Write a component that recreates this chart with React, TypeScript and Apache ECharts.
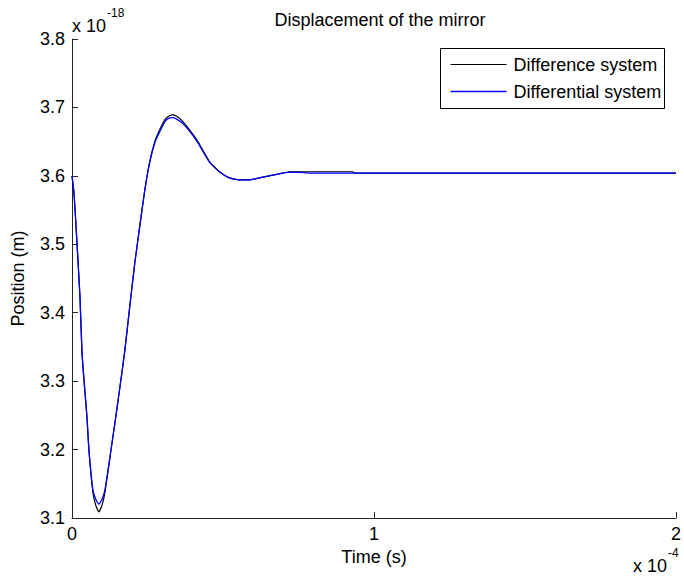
import React, { useEffect, useRef } from "react";
import * as echarts from "echarts";

// Time in units of 1e-4 s, position in units of 1e-18 m
const timeValues = [
  0, 0.0066, 0.0165, 0.0264, 0.033, 0.0396, 0.0495, 0.0561, 0.0693, 0.079, 0.089,
  0.099, 0.109, 0.129, 0.145, 0.162, 0.175, 0.191, 0.208, 0.224, 0.241, 0.257,
  0.274, 0.29, 0.307, 0.32, 0.333, 0.346, 0.366, 0.39, 0.416, 0.455, 0.488, 0.521,
  0.554, 0.587, 0.62, 0.653, 0.686, 0.719, 0.752, 0.8, 0.93, 0.935, 1.2, 1.5, 2.0,
];

const differentialValues = [
  3.6, 3.575, 3.502, 3.423, 3.343, 3.302, 3.248, 3.199, 3.141, 3.127, 3.12,
  3.127, 3.141, 3.199, 3.248, 3.302, 3.345, 3.408, 3.473, 3.525, 3.579, 3.619,
  3.648, 3.664, 3.679, 3.684, 3.685, 3.683, 3.677, 3.665, 3.649, 3.62, 3.606, 3.597,
  3.594, 3.594, 3.597, 3.6, 3.603, 3.605, 3.605, 3.604, 3.604, 3.604, 3.604, 3.604, 3.604,
];

const differenceValues = [
  3.6, 3.575, 3.502, 3.423, 3.343, 3.302, 3.248, 3.199, 3.137, 3.118, 3.109,
  3.118, 3.137, 3.199, 3.248, 3.302, 3.345, 3.408, 3.473, 3.525, 3.579, 3.62,
  3.65, 3.667, 3.682, 3.687, 3.689, 3.687, 3.68, 3.667, 3.651, 3.621, 3.606, 3.597,
  3.594, 3.594, 3.597, 3.6, 3.603, 3.606, 3.606, 3.606, 3.606, 3.604, 3.604, 3.604, 3.604,
];

const seriesNames = ["Difference system", "Differential system"];
const seriesColors = ["#000000", "#0000ff"];

const FONT = "Liberation Sans, Arial, sans-serif";
const FS = 18;

export default function App() {
  const ref = useRef<HTMLDivElement>(null);

  useEffect(() => {
    if (!ref.current) return;
    const chart = echarts.init(ref.current, undefined, { renderer: "svg" });

    const diffData = timeValues.map((t, i) => [t, differenceValues[i]]);
    const dfData = timeValues.map((t, i) => [t, differentialValues[i]]);

    const axisColor = "#262626";

    chart.setOption({
      animation: false,
      backgroundColor: "#ffffff",
      title: {
        text: "Displacement of the mirror",
        left: 375,
        top: 6,
        textAlign: "center",
        textStyle: { fontFamily: FONT, fontSize: FS, fontWeight: "normal", color: "#000" },
      },
      grid: { left: 72, right: 6, top: 39, bottom: 62 },
      xAxis: {
        type: "value",
        min: 0,
        max: 2,
        interval: 1,
        name: "Time (s)",
        nameLocation: "middle",
        nameGap: 29,
        nameTextStyle: { fontFamily: FONT, fontSize: FS, color: "#000" },
        axisLine: { show: true, lineStyle: { color: axisColor, width: 1 } },
        axisTick: { show: true, inside: true, length: 6, lineStyle: { color: axisColor } },
        axisLabel: {
          fontFamily: FONT,
          fontSize: FS,
          color: "#000",
          margin: 7,
          formatter: (v: number) => String(Math.round(v)),
        },
        splitLine: { show: false },
      },
      yAxis: {
        type: "value",
        min: 3.1,
        max: 3.8,
        interval: 0.1,
        name: "Position (m)",
        nameLocation: "middle",
        nameGap: 45,
        nameTextStyle: { fontFamily: FONT, fontSize: FS, color: "#000" },
        axisLine: { show: true, lineStyle: { color: axisColor, width: 1 } },
        axisTick: { show: true, inside: true, length: 6, lineStyle: { color: axisColor } },
        axisLabel: {
          fontFamily: FONT,
          fontSize: FS,
          color: "#000",
          margin: 7,
          formatter: (v: number) => v.toFixed(1),
        },
        splitLine: { show: false },
      },
      series: [
        {
          name: seriesNames[0],
          type: "line",
          data: diffData,
          symbol: "none",
          smooth: 0.15,
          lineStyle: { color: seriesColors[0], width: 1.2 },
          z: 2,
        },
        {
          name: seriesNames[1],
          type: "line",
          data: dfData,
          symbol: "none",
          smooth: 0.15,
          lineStyle: { color: seriesColors[1], width: 1.3 },
          z: 3,
        },
      ],
      graphic: [
        {
          type: "group",
          left: 440,
          top: 48,
          children: [
            {
              type: "rect",
              shape: { x: 0, y: 0, width: 224, height: 60 },
              style: { fill: "#fff", stroke: "#000", lineWidth: 1 },
            },
            {
              type: "line",
              shape: { x1: 10, y1: 16, x2: 66, y2: 16 },
              style: { stroke: seriesColors[0], lineWidth: 1.2 },
            },
            {
              type: "text",
              x: 73,
              y: 16,
              style: {
                text: seriesNames[0],
                fontFamily: FONT,
                fontSize: FS,
                fill: "#000",
                verticalAlign: "middle",
              },
            },
            {
              type: "line",
              shape: { x1: 10, y1: 43, x2: 66, y2: 43 },
              style: { stroke: seriesColors[1], lineWidth: 1.3 },
            },
            {
              type: "text",
              x: 73,
              y: 43,
              style: {
                text: seriesNames[1],
                fontFamily: FONT,
                fontSize: FS,
                fill: "#000",
                verticalAlign: "middle",
              },
            },
          ],
        },
        {
          type: "text",
          left: 72,
          top: 7,
          style: {
            text: "{b|x 10}{s|-18}",
            rich: {
              b: { fontFamily: FONT, fontSize: FS, fill: "#000", padding: [10, 0, 0, 0] },
              s: { fontFamily: FONT, fontSize: 12, fill: "#000", verticalAlign: "top", padding: [0, 0, 6, 1] },
            },
          },
        },
        {
          type: "text",
          left: 633,
          top: 547,
          style: {
            text: "{b|x 10}{s|-4}",
            rich: {
              b: { fontFamily: FONT, fontSize: FS, fill: "#000", padding: [10, 0, 0, 0] },
              s: { fontFamily: FONT, fontSize: 12, fill: "#000", verticalAlign: "top", padding: [0, 0, 6, 1] },
            },
          },
        },
      ],
    });

    return () => chart.dispose();
  }, []);

  return (
    <div
      ref={ref}
      style={{ position: "fixed", left: 0, top: 0, width: 684, height: 580 }}
    />
  );
}
